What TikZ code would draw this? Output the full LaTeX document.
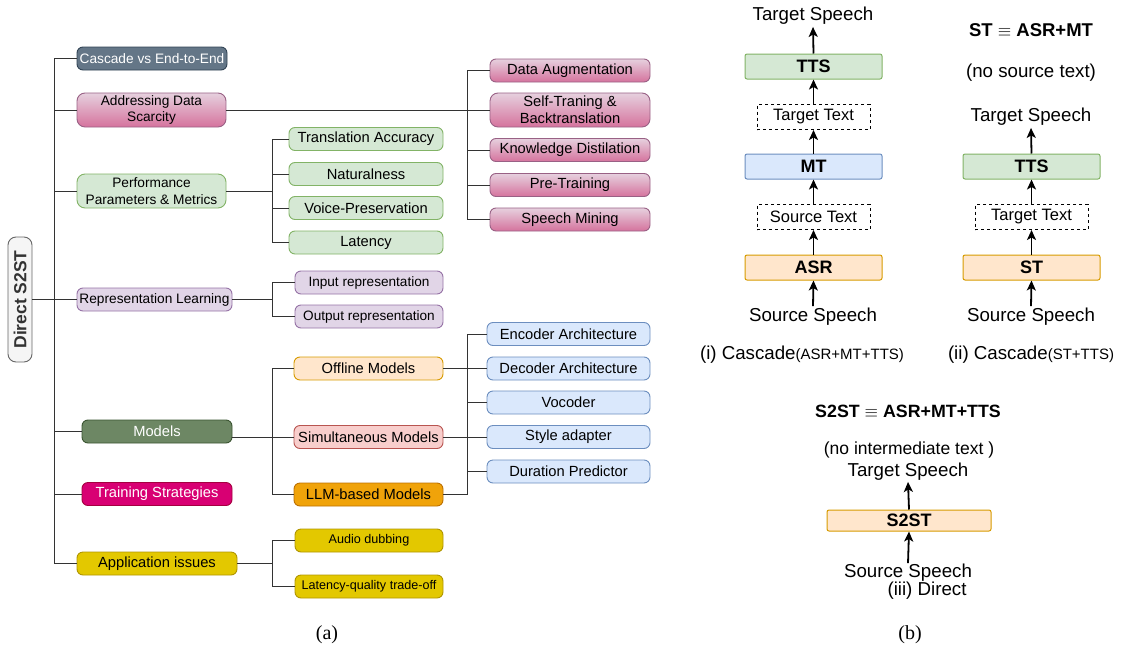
\documentclass[tikz,border=0pt]{standalone}
\usepackage{fontspec}
\setmainfont{Liberation Sans}
\newfontfamily\capfont{Liberation Serif}
\usetikzlibrary{arrows.meta}
\definecolor{slateF}{HTML}{647687}\definecolor{slateD}{HTML}{314354}
\definecolor{pinkT}{HTML}{E6D0DE}\definecolor{pinkB}{HTML}{D5739D}\definecolor{pinkD}{HTML}{996185}
\definecolor{greenF}{HTML}{D5E8D4}\definecolor{greenD}{HTML}{82B366}
\definecolor{purpF}{HTML}{E1D5E7}\definecolor{purpD}{HTML}{9673A6}
\definecolor{darkgF}{HTML}{6D8764}\definecolor{darkgD}{HTML}{3A5431}
\definecolor{magF}{HTML}{D80073}\definecolor{magD}{HTML}{A50040}
\definecolor{yelF}{HTML}{E3C800}\definecolor{yelD}{HTML}{B09500}
\definecolor{orlF}{HTML}{FFE6CC}\definecolor{orlD}{HTML}{D79B00}
\definecolor{redF}{HTML}{F8CECC}\definecolor{redD}{HTML}{B85450}
\definecolor{orF}{HTML}{F0A30A}\definecolor{orD}{HTML}{BD7000}
\definecolor{blueF}{HTML}{DAE8FC}\definecolor{blueD}{HTML}{6C8EBF}
\definecolor{grayF}{HTML}{F5F5F5}\definecolor{grayD}{HTML}{666666}
\definecolor{lineC}{HTML}{333333}
\begin{document}
\begin{tikzpicture}[x=1pt,y=-1pt,
  box/.style={draw, rounded corners=6pt, line width=0.9pt, inner sep=0pt, align=center, text=black},
  fA/.style={font=\fontsize{13.7}{16.5}\selectfont},
  fB/.style={font=\fontsize{14.7}{17}\selectfont},
  fC/.style={font=\fontsize{13.6}{16}\selectfont},
  fD/.style={font=\fontsize{12.6}{15}\selectfont},
  pinkbox/.style={box, top color=pinkT, bottom color=pinkB, draw=pinkD},
  greenbox/.style={box, fill=greenF, draw=greenD},
  purpbox/.style={box, fill=purpF, draw=purpD},
  bluebox/.style={box, fill=blueF, draw=blueD},
  yelbox/.style={box, fill=yelF, draw=yelD},
  tree/.style={line width=1pt, draw=lineC},
  blk/.style={draw, line width=1pt, inner sep=0pt, font=\fontsize{18}{20}\selectfont\bfseries, minimum width=137pt, minimum height=25pt, rounded corners=2pt},
  dbox/.style={draw, dashed, line width=1pt, inner sep=0pt, font=\fontsize{16.5}{18}\selectfont, minimum width=113pt, minimum height=25pt},
  txt/.style={inner sep=2pt, font=\fontsize{18.7}{20}\selectfont},
  arr/.style={-{Stealth[length=10pt,width=9pt,inset=2.5pt]}, line width=1.8pt}
]
\useasboundingbox (0,0) rectangle (1121,653);

% ---------- (a) tree ----------
\node[box, rotate=90, fill=grayF, draw=grayD, rounded corners=8pt, minimum width=125pt, minimum height=24pt,
      text=lineC, font=\fontsize{17.5}{18}\selectfont\bfseries] (direct) at (20,299.5) {Direct S2ST};

\node[box, fA, fill=slateF, draw=slateD, text=white, minimum width=150pt, minimum height=23pt] (cascade) at (152,58.5) {Cascade vs End-to-End};
\node[pinkbox, fA, minimum width=149pt, minimum height=34pt, rounded corners=8pt] (scarcity) at (151.5,110) {Addressing Data\\Scarcity};
\node[greenbox, fA, minimum width=149pt, minimum height=34pt, rounded corners=8pt] (perf) at (151.5,191) {Performance\\Parameters \& Metrics};
\node[purpbox, fA, minimum width=155pt, minimum height=23pt] (rep) at (154.5,299.5) {Representation Learning};
\node[box, fB, fill=darkgF, draw=darkgD, text=white, minimum width=150pt, minimum height=23pt] (models) at (157,431.5) {Models};
\node[box, fB, fill=magF, draw=magD, text=white, minimum width=150pt, minimum height=23pt] (training) at (157,494) {Training Strategies};
\node[yelbox, fB, minimum width=160pt, minimum height=23pt] (app) at (157,563.5) {Application issues};

% pink children
\node[pinkbox, fB, minimum width=160pt, minimum height=23pt] (aug) at (570,70.5) {Data Augmentation};
\node[pinkbox, fB, minimum width=160pt, minimum height=34pt, rounded corners=8pt] (self) at (570,110) {Self-Traning \&\\Backtranslation};
\node[pinkbox, fB, minimum width=160pt, minimum height=23pt] (kd) at (570,150) {Knowledge Distilation};
\node[pinkbox, fB, minimum width=160pt, minimum height=23pt] (pre) at (570,185) {Pre-Training};
\node[pinkbox, fB, minimum width=160pt, minimum height=23pt] (mining) at (570,219.5) {Speech Mining};

% green children
\node[greenbox, fB, minimum width=154pt, minimum height=23pt] (acc) at (366,139) {Translation Accuracy};
\node[greenbox, fB, minimum width=154pt, minimum height=23pt] (nat) at (366,174) {Naturalness};
\node[greenbox, fB, minimum width=154pt, minimum height=23pt] (voice) at (366,208) {Voice-Preservation};
\node[greenbox, fB, minimum width=154pt, minimum height=23pt] (lat) at (366,242.5) {Latency};

% representation children
\node[purpbox, fC, minimum width=148pt, minimum height=23pt] (input) at (369,282.5) {Input representation};
\node[purpbox, fC, minimum width=148pt, minimum height=23pt] (output) at (369,316.5) {Output representation};

% models children
\node[box, fB, fill=orlF, draw=orlD, minimum width=149pt, minimum height=23pt] (offline) at (368.5,368.5) {Offline Models};
\node[box, fB, fill=redF, draw=redD, minimum width=149pt, minimum height=23pt] (simul) at (368.5,437) {Simultaneous Models};
\node[box, fB, fill=orF, draw=orD, minimum width=149pt, minimum height=23pt] (llm) at (368.5,494.5) {LLM-based Models};

% blue children
\node[bluebox, fB, minimum width=163pt, minimum height=23pt] (enc) at (568.5,334) {Encoder Architecture};
\node[bluebox, fB, minimum width=163pt, minimum height=23pt] (dec) at (568.5,368.5) {Decoder Architecture};
\node[bluebox, fB, minimum width=163pt, minimum height=23pt] (voc) at (568.5,402.5) {Vocoder};
\node[bluebox, fB, minimum width=163pt, minimum height=23pt] (style) at (568.5,437) {Style adapter};
\node[bluebox, fB, minimum width=163pt, minimum height=23pt] (dur) at (568.5,471.5) {Duration Predictor};

% application children
\node[yelbox, fD, minimum width=148pt, minimum height=23pt] (dub) at (369,540.5) {Audio dubbing};
\node[yelbox, fD, minimum width=148pt, minimum height=23pt] (lqt) at (369,586.5) {Latency-quality trade-off};

% trunk coordinates
\coordinate (T) at (54,0);
\coordinate (S1) at (272,0);
\coordinate (S2) at (467,0);

% main trunk
\draw[tree] (cascade.west -| T) -- (app.west -| T);
\draw[tree] (direct.south) -- (rep.west);
\foreach \n in {cascade,scarcity,perf,models,training,app}
  \draw[tree] (\n.west) -- (\n.west -| T);

% scarcity
\draw[tree] (scarcity.east) -- (self.west);
\draw[tree] (aug.west -| S2) -- (mining.west -| S2);
\foreach \n in {aug,kd,pre,mining}
  \draw[tree] (\n.west) -- (\n.west -| S2);

% performance
\draw[tree] (perf.east) -- (perf.east -| S1);
\draw[tree] (acc.west -| S1) -- (lat.west -| S1);
\foreach \n in {acc,nat,voice,lat}
  \draw[tree] (\n.west) -- (\n.west -| S1);

% representation
\draw[tree] (rep.east) -- (rep.east -| S1);
\draw[tree] (input.west -| S1) -- (output.west -| S1);
\foreach \n in {input,output}
  \draw[tree] (\n.west) -- (\n.west -| S1);

% models
\draw[tree] (simul.west -| models.east) -- (simul.west);
\draw[tree] (offline.west -| S1) -- (llm.west -| S1);
\foreach \n in {offline,llm}
  \draw[tree] (\n.west) -- (\n.west -| S1);
\draw[tree] (offline.east) -- (dec.west);
\draw[tree] (simul.east) -- (style.west);
\draw[tree] (llm.east) -- (llm.east -| S2);
\draw[tree] (enc.west -| S2) -- (llm.east -| S2);
\foreach \n in {enc,voc,dur}
  \draw[tree] (\n.west) -- (\n.west -| S2);

% application
\draw[tree] (app.east) -- (app.east -| S1);
\draw[tree] (dub.west -| S1) -- (lqt.west -| S1);
\foreach \n in {dub,lqt}
  \draw[tree] (\n.west) -- (\n.west -| S1);

% ---------- (b) ----------
% column (i)
\node[txt] (ts1) at (813,16) {Target Speech};
\node[blk, fill=greenF, draw=greenD] (tts1) at (813.5,66.5) {TTS};
\node[dbox] (tt1) at (813.5,117) {Target Text};
\node[blk, fill=blueF, draw=blueD] (mt) at (813.5,166.5) {MT};
\node[dbox] (st1) at (813.5,217) {Source Text};
\node[blk, fill=orlF, draw=orlD] (asr) at (813.5,267.5) {ASR};
\node[txt] (ss1) at (813,317) {Source Speech};
\node[txt] (cap1) at (802,355) {(i) Cascade{\fontsize{15}{16}\selectfont(ASR+MT+TTS)}};
\draw[arr] (tts1.north) -- (ts1.south);
\draw[arr] (tt1.north) -- (tts1.south);
\draw[arr] (mt.north) -- (tt1.south);
\draw[arr] (st1.north) -- (mt.south);
\draw[arr] (asr.north) -- (st1.south);
\draw[arr] (ss1.north) -- (asr.south);

% column (ii)
\node[txt, font=\fontsize{18.5}{20}\selectfont\bfseries] (eq2) at (1031,30) {ST $\equiv$ ASR+MT};
\node[txt] (nost) at (1031,73) {(no source text)};
\node[txt] (ts2) at (1031,117) {Target Speech};
\node[blk, fill=greenF, draw=greenD] (tts2) at (1031.5,166.5) {TTS};
\node[dbox] (tt2) at (1031.5,217) {Target Text};
\node[blk, fill=orlF, draw=orlD] (st) at (1031.5,267.5) {ST};
\node[txt] (ss2) at (1031,317) {Source Speech};
\node[txt] (cap2) at (1031,355) {(ii) Cascade{\fontsize{15}{16}\selectfont(ST+TTS)}};
\draw[arr] (tts2.north) -- (ts2.south);
\draw[arr] (tt2.north) -- (tts2.south);
\draw[arr] (st.north) -- (tt2.south);
\draw[arr] (ss2.north) -- (st.south);

% column (iii)
\node[txt, font=\fontsize{17.8}{19}\selectfont\bfseries] (eq3) at (908,411) {S2ST $\equiv$ ASR+MT+TTS};
\node[txt, font=\fontsize{17.5}{19}\selectfont] (noint) at (909,450) {(no intermediate text )};
\node[txt, inner sep=1pt] (ts3) at (908,472) {Target Speech};
\node[blk, fill=orlF, draw=orlD, minimum width=164pt, minimum height=21pt] (s2st) at (909,520.5) {S2ST};
\node[txt, inner sep=1pt] (ss3) at (908,573) {Source Speech};
\node[txt] (cap3) at (927,591) {(iii) Direct};
\draw[arr] (s2st.north) -- (ts3.south);
\draw[arr] (ss3.north) -- (s2st.south);

% captions
\node[font=\capfont\fontsize{20}{22}\selectfont] (capa) at (327,635) {(a)};
\node[font=\capfont\fontsize{20}{22}\selectfont] (capb) at (910,635) {(b)};
\end{tikzpicture}
\end{document}
